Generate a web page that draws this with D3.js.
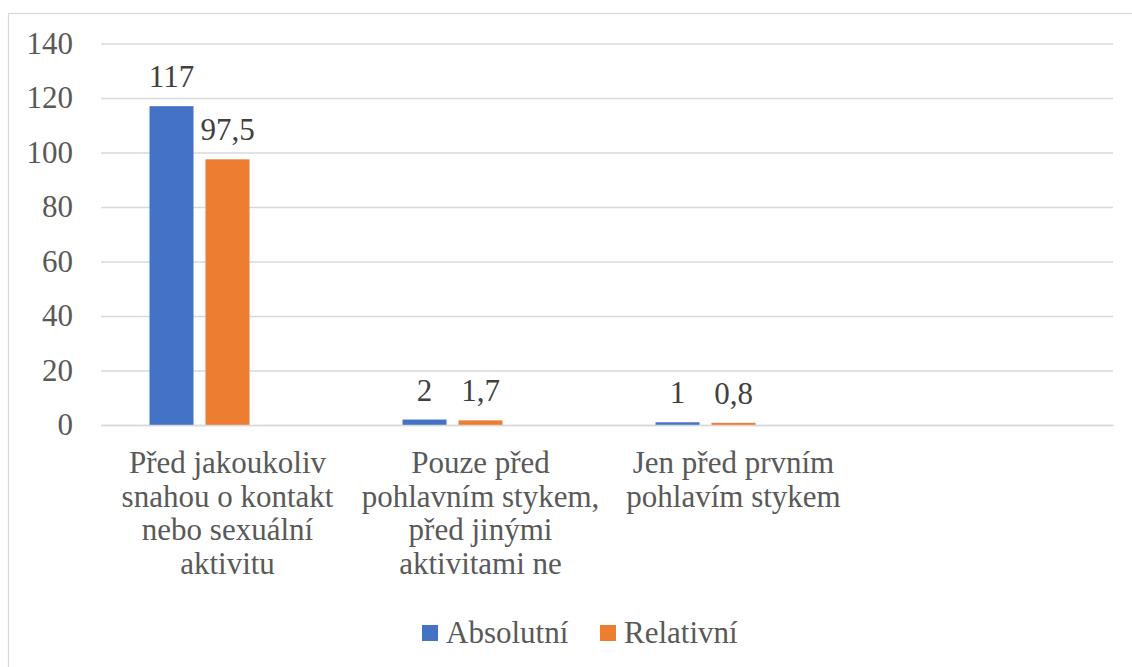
<!DOCTYPE html>
<html>
<head>
<meta charset="utf-8">
<script src="https://cdn.jsdelivr.net/npm/d3@7"></script>
<style>
  body { margin: 0; background: #fff; }
  svg text { font-family: "Liberation Serif", "Times New Roman", Times, "DejaVu Serif", serif !important; }
</style>
</head>
<body>
<svg id="chart" width="1132" height="667"></svg>
<script>
// categories (4th slot is empty in the original chart)
const categories = [
  "Před jakoukoliv\nsnahou o kontakt\nnebo sexuální\naktivitu",
  "Pouze před\npohlavním stykem,\npřed jinými\naktivitami ne",
  "Jen před prvním\npohlavím stykem",
  ""
];
const series = ["Absolutní", "Relativní"];
const absolutni = [117, 2, 1, null];
const relativni = [97.5, 1.7, 0.8, null];
const yTicks = [0, 20, 40, 60, 80, 100, 120, 140];
const colors = ["#4472C4", "#ED7D31"];

const svg = d3.select("#chart");
const margin = { top: 43.5, left: 101, right: 19, bottom: 242 };
const width = 1132 - margin.left - margin.right,
  height = 667 - margin.top - margin.bottom;

// outer chart border (runs off the right/bottom edge)
svg.append("rect")
  .attr("x", 8.5).attr("y", 13.5)
  .attr("width", 1200).attr("height", 800)
  .attr("fill", "none").attr("stroke", "#d9d9d9").attr("stroke-width", 1.2);

const g = svg.append("g")
  .attr("transform", "translate(" + margin.left + "," + margin.top + ")");

const x0 = d3.scaleBand().domain(categories).range([0, width]);
// the original has a third, empty series slot in each cluster
const slots = [...series, "_empty"];
const x1 = d3.scaleBand().domain(slots).range([0, x0.bandwidth()])
  .paddingInner(0.214).paddingOuter(0.866);
const y = d3.scaleLinear().domain([0, 140]).range([height, 0]);

// gridlines + y labels
const yAxis = g.append("g")
  .call(d3.axisLeft(y).tickValues(yTicks).tickSize(-width).tickPadding(28));
yAxis.select(".domain").remove();
yAxis.selectAll("line").attr("stroke", "#d9d9d9").attr("stroke-width", 1.5);
yAxis.selectAll("text")
  .attr("fill", "#595959")
  .style("font-size", "31px");

// bars
const rows = categories.map((c, i) => ({ cat: c, vals: [absolutni[i], relativni[i]] }));
const grp = g.selectAll(".cat")
  .data(rows)
  .join("g")
  .attr("class", "cat")
  .attr("transform", d => "translate(" + x0(d.cat) + ",0)");

grp.selectAll("rect")
  .data(d => d.vals.map((v, j) => ({ s: series[j], v: v, j: j })).filter(d => d.v != null))
  .join("rect")
  .attr("x", d => x1(d.s))
  .attr("width", x1.bandwidth())
  .attr("y", d => y(d.v))
  .attr("height", d => height - y(d.v))
  .attr("fill", d => colors[d.j]);

grp.selectAll("text.val")
  .data(d => d.vals.map((v, j) => ({ s: series[j], v: v })).filter(d => d.v != null))
  .join("text")
  .attr("class", "val")
  .attr("x", d => x1(d.s) + x1.bandwidth() / 2)
  .attr("y", d => y(d.v) - 19)
  .attr("text-anchor", "middle")
  .attr("fill", "#404040")
  .style("font-size", "31px")
  .text(d => String(d.v).replace(".", ","));

// x axis
const xAxis = g.append("g")
  .attr("transform", "translate(0," + height + ")")
  .call(d3.axisBottom(x0).tickSize(0).tickFormat(""));
xAxis.select(".domain").attr("stroke", "#d9d9d9").attr("stroke-width", 1.5);

xAxis.selectAll(".tick").append("text")
  .attr("text-anchor", "middle")
  .attr("fill", "#595959")
  .style("font-size", "31px")
  .each(function(d) {
    const lines = d.split("\n");
    d3.select(this).selectAll("tspan")
      .data(lines)
      .join("tspan")
      .attr("x", 0)
      .attr("y", (l, i) => 48 + i * 33.5)
      .text(l => l);
  });

// legend
const legend = svg.append("g").attr("transform", "translate(422,625)");
const legX = [0, 178];
series.forEach((s, i) => {
  legend.append("rect")
    .attr("x", legX[i]).attr("y", 0)
    .attr("width", 16).attr("height", 16)
    .attr("fill", colors[i]);
  legend.append("text")
    .attr("x", legX[i] + 24).attr("y", 18.3)
    .attr("fill", "#595959")
    .style("font-size", "31px")
    .text(s);
});
</script>
</body>
</html>
